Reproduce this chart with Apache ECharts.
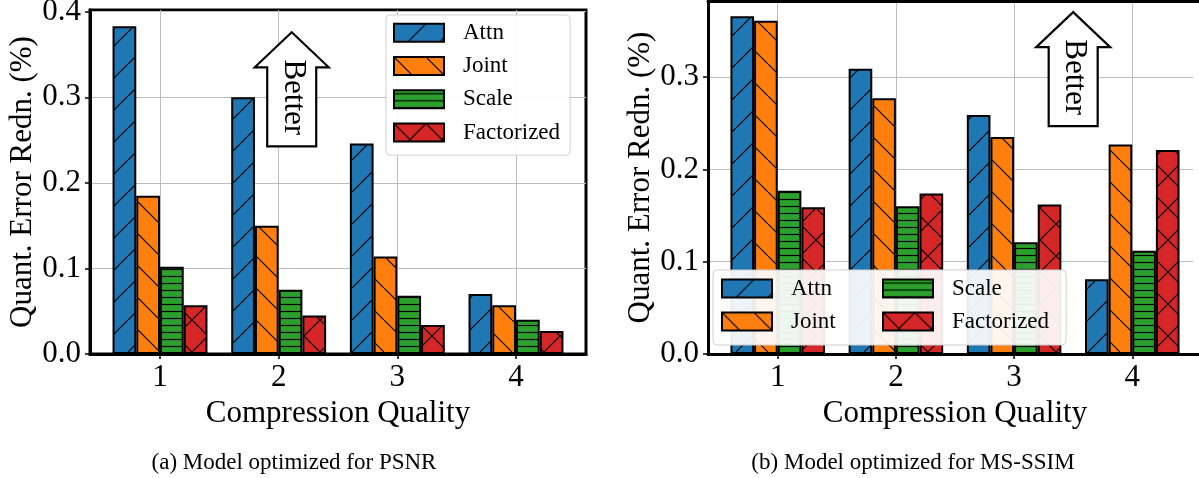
<!DOCTYPE html>
<html>
<head>
<meta charset="utf-8">
<script src="https://cdn.jsdelivr.net/npm/echarts@6/dist/echarts.min.js"></script>
<style>
html,body{margin:0;padding:0;background:#fff;}
#chart{width:1199px;height:478px;}
</style>
</head>
<body>
<div id="chart"></div>
<script>
// ---- data ----
const categories = [1, 2, 3, 4];
const seriesNames = ['Attn', 'Joint', 'Scale', 'Factorized'];
const yTicks = [0, 0.1, 0.2, 0.3, 0.4];
// (a) PSNR model
const attnPSNR = [0.383, 0.300, 0.246, 0.070];
const jointPSNR = [0.185, 0.150, 0.114, 0.057];
const scalePSNR = [0.102, 0.075, 0.068, 0.040];
const factPSNR = [0.057, 0.045, 0.034, 0.027];
// (b) MS-SSIM model
const attnMS = [0.366, 0.309, 0.259, 0.081];
const jointMS = [0.361, 0.277, 0.235, 0.227];
const scaleMS = [0.177, 0.160, 0.121, 0.112];
const factMS = [0.159, 0.174, 0.162, 0.221];
const xLabel = 'Compression Quality';
const yLabel = 'Quant. Error Redn. (%)';
const captions = ['(a) Model optimized for PSNR', '(b) Model optimized for MS-SSIM'];
const annotation = 'Better';

// ---- style ----
const FONT = '"Liberation Serif", "Times New Roman", serif';
const colors = ['#1f77b4', '#ff7f0e', '#2ca02c', '#d62728'];
const hatches = ['/', '\\', '-', 'x'];

function hatchPattern(color, kind) {
  const c = document.createElement('canvas');
  let w = 32, h = 32;
  if (kind === '-') { w = 8; h = 7; }
  c.width = w; c.height = h;
  const g = c.getContext('2d');
  g.fillStyle = color; g.fillRect(0, 0, w, h);
  g.strokeStyle = '#000'; g.lineWidth = 1.2;
  g.beginPath();
  if (kind === '/' || kind === 'x') {
    g.moveTo(-2, h + 2); g.lineTo(w + 2, -2);
  }
  if (kind === '\\' || kind === 'x') {
    g.moveTo(-2, -2); g.lineTo(w + 2, h + 2);
  }
  if (kind === '-') {
    g.moveTo(0, 3.5); g.lineTo(w, 3.5);
  }
  g.stroke();
  return { image: c, repeat: 'repeat' };
}
const patterns = colors.map((c, i) => hatchPattern(c, hatches[i]));

const chart = echarts.init(document.getElementById('chart'), null, { renderer: 'canvas' });

function makeX(gi) {
  return {
    type: 'value', gridIndex: gi, min: 0.41, max: 4.59,
    name: xLabel, nameLocation: 'middle', nameGap: 40,
    nameTextStyle: { fontFamily: FONT, fontSize: 31, color: '#000' },
    axisLine: { show: true, onZero: false, lineStyle: { color: '#000', width: 3 } },
    axisTick: { show: true, length: 5, customValues: categories, lineStyle: { color: '#000', width: 1.5 } },
    axisLabel: { customValues: categories, margin: 8, fontFamily: FONT, fontSize: 31, color: '#000' },
    splitLine: { show: true, lineStyle: { color: '#bdbdbd', width: 1 } }
  };
}
// top spine for the right panel (its right spine falls outside the picture)
const topSpine = {
  type: 'value', gridIndex: 1, position: 'top', min: 0.41, max: 4.59,
  axisLine: { show: true, onZero: false, lineStyle: { color: '#000', width: 3 } },
  axisTick: { show: false }, axisLabel: { show: false }, splitLine: { show: false }
};
function makeY(gi, max, gap, ticks) {
  return {
    type: 'value', gridIndex: gi, min: 0, max: max, position: 'left',
    name: yLabel, nameLocation: 'middle', nameGap: gap,
    nameTextStyle: { fontFamily: FONT, fontSize: 31, color: '#000' },
    axisLine: { show: true, onZero: false, lineStyle: { color: '#000', width: 3 } },
    axisTick: { show: true, length: 5, customValues: ticks, lineStyle: { color: '#000', width: 1.5 } },
    axisLabel: { customValues: ticks, margin: 9, fontFamily: FONT, fontSize: 31, color: '#000',
      formatter: v => v.toFixed(1) },
    splitLine: { show: true, lineStyle: { color: '#bdbdbd', width: 1 } }
  };
}
const dataA = [attnPSNR, jointPSNR, scalePSNR, factPSNR];
const dataB = [attnMS, jointMS, scaleMS, factMS];
const series = [];
[dataA, dataB].forEach((set, gi) => {
  set.forEach((vals, i) => {
    series.push({
      type: 'bar', name: seriesNames[i], xAxisIndex: gi, yAxisIndex: gi,
      barGap: '0%', barCategoryGap: '20%',
      data: categories.map((c, k) => [c, vals[k]]),
      itemStyle: { color: patterns[i], borderColor: '#000', borderWidth: 2 },
      emphasis: { disabled: true }, animation: false
    });
  });
});

const legendText = { fontFamily: FONT, fontSize: 23, color: '#000' };
chart.setOption({
  animation: false,
  grid: [
    { left: 90, top: 10, width: 496, height: 344, show: true, borderColor: '#000', borderWidth: 3, backgroundColor: 'transparent', outerBoundsMode: 'none', containLabel: false },
    { left: 708, top: 1, right: -3, height: 353, show: false, outerBoundsMode: 'none', containLabel: false }
  ],
  xAxis: [makeX(0), makeX(1), topSpine],
  yAxis: [makeY(0, 0.402, 43, yTicks), makeY(1, 0.3825, 52, yTicks.slice(0, 4))],
  legend: [
    { orient: 'vertical', left: 386, top: 15, itemWidth: 50, itemHeight: 18, itemGap: 0, icon: 'rect',
      padding: [1, 10, 6, 7], backgroundColor: 'rgba(255,255,255,0.9)', borderColor: '#d0d0d0', borderWidth: 1, borderRadius: 4,
      selectedMode: false, data: seriesNames,
      textStyle: Object.assign({ lineHeight: 33.3, padding: [0, 0, 0, 14] }, legendText) },
    { orient: 'vertical', left: 713, top: 270, height: 70, itemWidth: 50, itemHeight: 18, itemGap: 0, icon: 'rect',
      padding: [2, 17, 7, 8], backgroundColor: 'rgba(255,255,255,0.92)', borderColor: '#d0d0d0', borderWidth: 1, borderRadius: 4,
      selectedMode: false, data: seriesNames,
      textStyle: Object.assign({ lineHeight: 33, padding: [0, 0, 0, 14], width: 91, overflow: 'none' }, legendText) }
  ],
  series: series
});

function arrow(gi, xv, yv) {
  const p = chart.convertToPixel({ gridIndex: gi }, [xv, yv]);
  const cx = p[0], cy = p[1];
  const pts = [
    [cx, cy - 65], [cx + 37, cy - 30], [cx + 24.5, cy - 30], [cx + 24.5, cy + 49],
    [cx - 24.5, cy + 49], [cx - 24.5, cy - 30], [cx - 37, cy - 30]
  ];
  return [
    { type: 'polygon', z: 100, shape: { points: pts }, style: { fill: '#fff', stroke: '#000', lineWidth: 2.2 } },
    { type: 'text', z: 101, x: cx + 1, y: cy, rotation: -Math.PI / 2,
      style: { text: annotation, fontFamily: FONT, fontSize: 31, fill: '#000', align: 'center', verticalAlign: 'middle' } }
  ];
}
const graphics = [].concat(arrow(0, 2.11, 0.3), arrow(1, 3.5, 0.3));
// the right panel's right spine lies just outside the picture: keep the edge strip blank
graphics.push({ type: 'rect', z: 90, shape: { x: 1193, y: 3, width: 12, height: 349 }, style: { fill: '#fff' } });
graphics.push({ type: 'text', x: 294, y: 463, style: { text: captions[0], fontFamily: FONT, fontSize: 23, fill: '#000', align: 'center', verticalAlign: 'middle' } });
graphics.push({ type: 'text', x: 913, y: 463, style: { text: captions[1], fontFamily: FONT, fontSize: 23, fill: '#000', align: 'center', verticalAlign: 'middle' } });
chart.setOption({ graphic: graphics });
</script>
</body>
</html>
